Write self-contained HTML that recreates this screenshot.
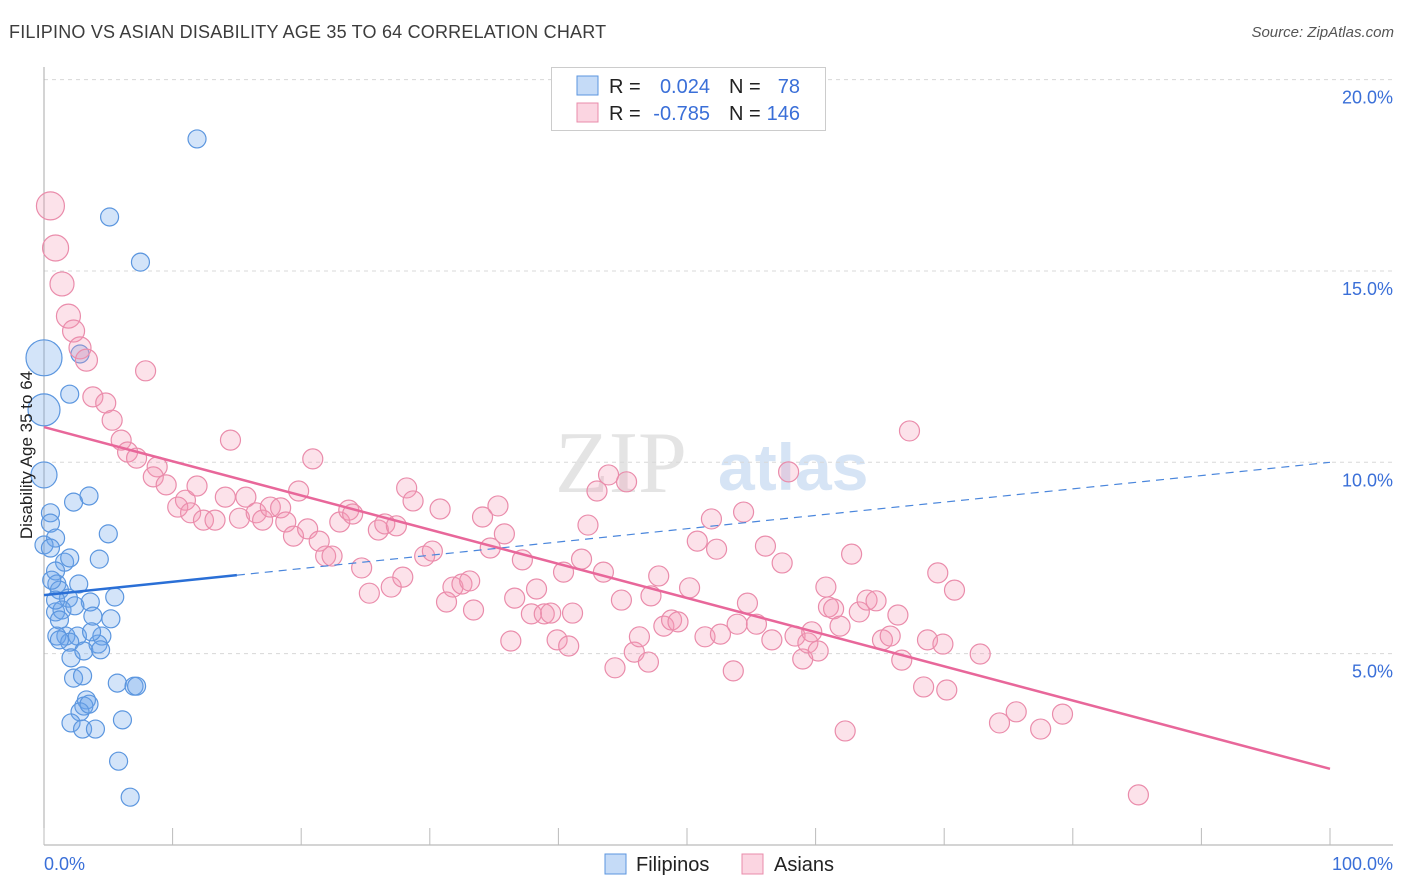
<!DOCTYPE html>
<html><head><meta charset="utf-8"><style>
body{margin:0;background:#fff;font-family:"Liberation Sans",sans-serif}
#wrap{position:relative;width:1406px;height:892px;overflow:hidden}
.t{position:absolute;white-space:nowrap}
</style></head><body>
<div id="wrap">
<div class="t" style="left:9px;top:22px;font-size:18px;color:#3c3c3c;letter-spacing:0.2px">FILIPINO VS ASIAN DISABILITY AGE 35 TO 64 CORRELATION CHART</div>
<div class="t" style="right:12px;top:24px;font-size:15px;color:#555;font-style:italic">Source: ZipAtlas.com</div>
<svg id="svg" width="1406" height="892" style="position:absolute;left:0;top:0"></svg>
<div class="t" style="left:27px;top:455px;font-size:17px;color:#222;transform:translate(-50%,-50%) rotate(-90deg)">Disability Age 35 to 64</div>
</div>
<script>
const blueX=[11.9,5.1,7.5,0,2.8,0,2.0,0,3.5,2.3,0.5,0.5,5.0,0.9,0.0,0.5,4.3,1.6,2.0,0.9,2.7,1.0,1.2,5.5,1.9,3.6,0.9,1.4,2.4,5.2,1.2,3.8,1.7,2.6,1.0,4.5,2.0,4.2,3.7,2.1,3.1,4.4,2.3,3.0,5.7,7.0,7.2,3.3,3.1,2.8,3.5,2.1,6.1,3.0,4.0,5.8,6.7,1.2,0.9,0.6];
const blueY=[18.45,16.41,15.23,12.73,12.83,11.37,11.78,9.67,9.12,8.96,8.68,8.41,8.13,8.02,7.84,7.76,7.47,7.39,7.50,7.16,6.82,6.82,6.66,6.48,6.45,6.35,6.09,6.14,6.25,5.91,5.88,5.98,5.46,5.46,5.46,5.46,5.30,5.25,5.57,4.89,5.07,5.10,4.36,4.42,4.23,4.15,4.15,3.79,3.63,3.48,3.68,3.19,3.27,3.03,3.03,2.19,1.25,5.36,6.40,6.92];
const blueR=[9,9,9,18,9,16,9,13,9,9,9,9,9,9,9,9,9,9,9,9,9,9,9,9,9,9,9,9,9,9,9,9,9,9,9,9,9,9,9,9,9,9,9,9,9,9,9,9,9,9,9,9,9,9,9,9,9,9,9,9];
const pinkX=[0.5,0.9,1.4,1.9,2.3,2.8,3.3,7.9,3.8,4.8,5.3,6.0,6.5,7.2,14.5,20.9,8.8,8.5,11.0,9.5,10.4,11.4,11.9,12.4,14.1,13.3,15.2,15.7,16.5,17.0,17.6,18.4,18.8,19.8,19.4,20.5,21.4,21.9,22.4,23.0,23.7,24.0,24.7,25.3,26.0,26.5,27.4,27.0,27.9,28.2,28.7,29.6,30.2,30.8,31.3,31.8,32.5,33.1,33.4,34.1,34.7,35.3,35.8,36.3,36.6,37.2,37.9,38.3,38.9,39.4,39.9,40.8,40.4,41.1,41.8,42.3,43.0,43.5,43.9,44.4,44.9,45.3,45.9,46.3,47.0,47.2,47.8,48.2,48.8,49.3,50.2,50.8,51.4,51.9,52.3,52.6,53.6,53.9,54.4,54.7,55.4,56.1,56.6,57.4,57.9,58.4,59.0,59.4,59.7,60.2,61.0,60.8,61.4,61.9,62.3,62.8,63.4,64.0,64.7,65.2,65.8,66.4,66.7,67.3,68.4,68.7,69.5,70.2,70.8,69.9,72.8,74.3,75.6,77.5,79.2,85.1];
const pinkY=[16.70,15.60,14.66,13.82,13.43,12.99,12.67,12.39,11.71,11.55,11.10,10.58,10.27,10.11,10.58,10.09,9.88,9.62,9.01,9.41,8.83,8.68,9.38,8.49,9.09,8.49,8.54,9.09,8.68,8.49,8.83,8.81,8.44,9.25,8.07,8.26,7.94,7.55,7.55,8.44,8.75,8.65,7.24,6.58,8.23,8.39,8.34,6.74,7.00,9.33,8.99,7.55,7.68,8.78,6.35,6.74,6.82,6.90,6.14,8.57,7.76,8.86,8.13,5.33,6.45,7.45,6.04,6.69,6.04,6.06,5.36,5.20,7.13,6.06,7.47,8.36,9.25,7.13,9.67,4.63,6.40,9.49,5.04,5.44,4.78,6.51,7.03,5.72,5.88,5.83,6.72,7.94,5.44,8.52,7.73,5.51,4.55,5.77,8.70,6.32,5.77,7.81,5.36,7.37,9.75,5.46,4.86,5.28,5.57,5.07,6.22,6.74,6.17,5.72,2.98,7.60,6.09,6.40,6.38,5.36,5.46,6.01,4.83,10.82,4.13,5.36,7.11,4.05,6.66,5.25,4.99,3.19,3.48,3.03,3.42,1.31];
const pinkBig=[14,13,12,12,11,11,11];
const blueTrend=[6.53,10.0]; const blueSolidEnd=15;
const pinkTrend=[10.92,1.99];
const yTicks=[5,10,15,20];
const xTicks=[0,10,20,30,40,50,60,70,80,90,100];

const X=v=>44+v*12.86, Y=v=>845-v*38.27;
const svg=document.getElementById('svg'), NS='http://www.w3.org/2000/svg';
function mk(t,a){const e=document.createElementNS(NS,t);for(const k in a)e.setAttribute(k,a[k]);svg.appendChild(e);return e;}
// watermark
let wm=mk('text',{x:555,y:492,'font-size':88,'font-family':'Liberation Serif',fill:'#e4e4e4'});wm.textContent='ZIP';


let wm2=mk('text',{x:718,y:490,'font-size':66,'font-family':'Liberation Sans','font-weight':'bold',fill:'#d6e4f5'});wm2.textContent='atlas';


yTicks.forEach(v=>{
 const g=mk('line',{x1:44,x2:1393,y1:Y(v),y2:Y(v),stroke:'#d8d8d8','stroke-dasharray':'4,4'});
 
 
 const t=mk('text',{x:1393,y:Y(v)+24,'text-anchor':'end','font-size':18,fill:'#3a6fd8'});t.textContent=v.toFixed(1)+'%';
 
 
});
mk('line',{x1:44,x2:44,y1:67,y2:845,stroke:'#aaa'});
mk('line',{x1:44,x2:1393,y1:845,y2:845,stroke:'#aaa'});
xTicks.forEach(v=>{const l=mk('line',{x1:X(v),x2:X(v),y1:828,y2:845,stroke:'#bbb'});
 
 });
let xl=mk('text',{x:44,y:870,'font-size':18,fill:'#3a6fd8'});xl.textContent='0.0%';

let xr=mk('text',{x:1393,y:870,'font-size':18,fill:'#3a6fd8','text-anchor':'end'});xr.textContent='100.0%';

blueX.forEach((x,i)=>{const c=mk('circle',{cx:X(x),cy:Y(blueY[i]),r:blueR[i],fill:'rgba(110,165,235,0.3)',stroke:'#5b96df','stroke-width':1.2});
 
 });
pinkX.forEach((x,i)=>{const c=mk('circle',{cx:X(x),cy:Y(pinkY[i]),r:pinkBig[i]||10,fill:'rgba(245,150,180,0.28)',stroke:'#ea8cab','stroke-width':1.2});
 
 });
const bAt=v=>blueTrend[0]+(blueTrend[1]-blueTrend[0])*v/100;
let bl=mk('line',{x1:X(0),y1:Y(bAt(0)),x2:X(blueSolidEnd),y2:Y(bAt(blueSolidEnd)),stroke:'#2a6fd6','stroke-width':2.5});

let bd=mk('line',{x1:X(blueSolidEnd),y1:Y(bAt(blueSolidEnd)),x2:X(100),y2:Y(bAt(100)),stroke:'#4a86dc','stroke-width':1.2,'stroke-dasharray':'8,6'});

let pl=mk('line',{x1:X(0),y1:Y(pinkTrend[0]),x2:X(100),y2:Y(pinkTrend[1]),stroke:'#e8679a','stroke-width':2.5});

// legend box
mk('rect',{x:551.5,y:67.5,width:274,height:63,fill:'#fff',stroke:'#ccc'});
mk('rect',{x:577,y:76,width:21,height:19,fill:'rgba(110,165,235,0.4)',stroke:'#5b96df'});
mk('rect',{x:577,y:103,width:21,height:19,fill:'rgba(245,150,180,0.4)',stroke:'#ea8cab'});
function txt(x,y,s,c,anchor){const t=mk('text',{x:x,y:y,'font-size':20,fill:c,'text-anchor':anchor||'start'});t.textContent=s;
 
 return t;}
txt(609,93,'R =','#222');txt(710,93,'0.024','#3a6fd8','end');txt(729,93,'N =','#222');txt(800,93,'78','#3a6fd8','end');
txt(609,120,'R =','#222');txt(710,120,'-0.785','#3a6fd8','end');txt(729,120,'N =','#222');txt(800,120,'146','#3a6fd8','end');
// bottom legend
mk('rect',{x:605,y:854,width:21,height:20,fill:'rgba(110,165,235,0.4)',stroke:'#5b96df'});
mk('rect',{x:742,y:854,width:21,height:20,fill:'rgba(245,150,180,0.4)',stroke:'#ea8cab'});
txt(636,871,'Filipinos','#222');txt(774,871,'Asians','#222');
</script>
</body></html>
